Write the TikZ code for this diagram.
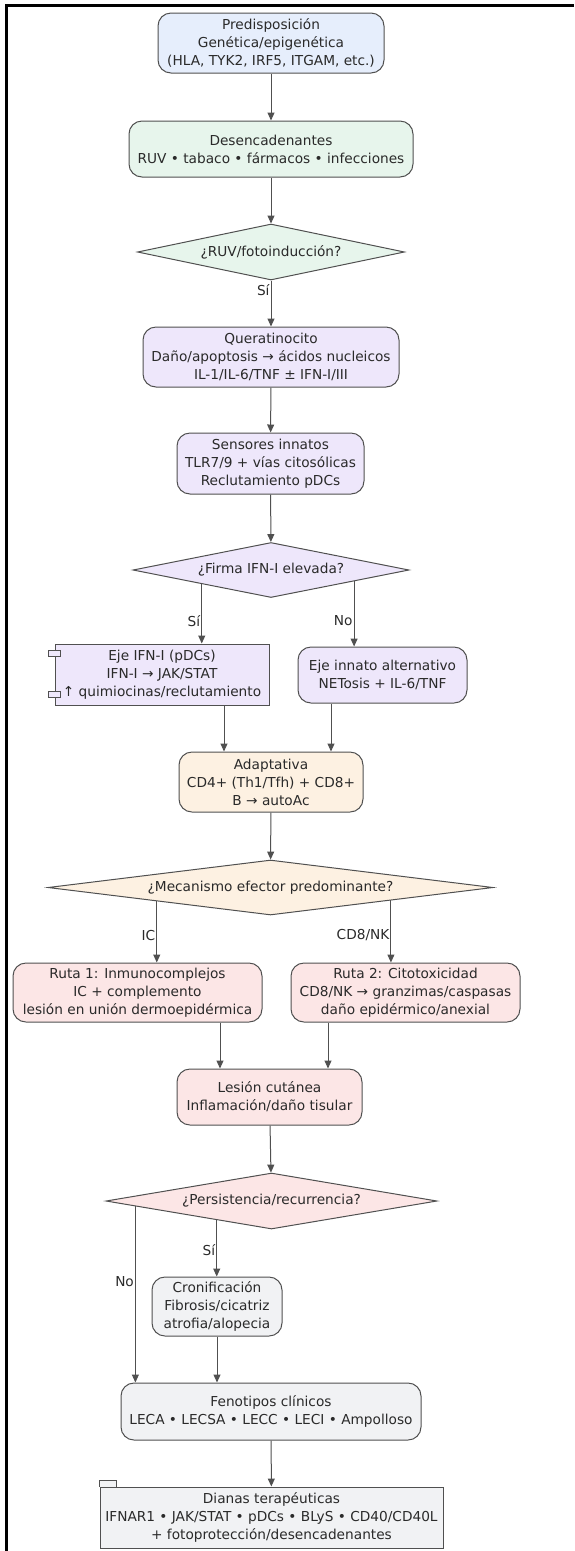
\documentclass[tikz,border=0pt]{standalone}
\usepackage{fontspec}
\setmainfont{DejaVu Sans}
\usetikzlibrary{shapes.geometric,arrows.meta,calc}

\definecolor{fillBlue}{HTML}{E6EEFC}
\definecolor{fillGreen}{HTML}{E7F5EC}
\definecolor{fillLav}{HTML}{EEE7FB}
\definecolor{fillPeach}{HTML}{FDF1E2}
\definecolor{fillPink}{HTML}{FCE6E6}
\definecolor{fillGrey}{HTML}{F1F2F4}
\definecolor{edgeGrey}{HTML}{505050}
\definecolor{textGrey}{HTML}{2A2A2A}

\newcommand\boxfont{\fontsize{13.7}{18}\selectfont}

\tikzset{
	box/.style={rectangle, rounded corners=13pt, draw=edgeGrey, line width=1pt,
		align=center, inner sep=0pt, text=textGrey, font=\boxfont},
	sqbox/.style={box, sharp corners},
	decision/.style={diamond, draw=edgeGrey, line width=1pt, inner sep=0pt,
		text=textGrey, font=\boxfont},
	arr/.style={draw=edgeGrey, line width=1pt, -{Triangle[length=8pt,width=7pt]}},
	lbl/.style={anchor=east, inner sep=1pt, text=textGrey, font=\boxfont}
}

\begin{document}
\begin{tikzpicture}[x=1pt,y=-1pt]
					%\draw[help lines] (0,0) grid (574,1551);
					\useasboundingbox (0,0) rectangle (574,1551);
					\draw[line width=3pt] (6,1551) -- (6,5.5) -- (574,5.5);
					
					\node[box, fill=fillBlue, minimum width=226pt, minimum height=60pt] (pred) at (271,43)
						{Predisposición\\Genética/epigenética\\(HLA, TYK2, IRF5, ITGAM, etc.)};
					\node[box, fill=fillGreen, minimum width=284pt, minimum height=56pt] (desenc) at (271,149)
						{Desencadenantes\\RUV • tabaco • fármacos • infecciones};
					\node[decision, fill=fillGreen, aspect=4.77, minimum width=267pt, minimum height=56pt] (ruv) at (271,252)
						{¿RUV/fotoinducción?};
					\node[box, fill=fillLav, minimum width=256pt, minimum height=60pt] (querat) at (271,357)
						{Queratinocito\\Daño/apoptosis → ácidos nucleicos\\IL-1/IL-6/TNF ± IFN-I/III};
					\node[box, fill=fillLav, minimum width=187pt, minimum height=61pt] (sensor) at (270.5,463.5)
						{Sensores innatos\\TLR7/9 + vías citosólicas\\Reclutamiento pDCs};
					\node[decision, fill=fillLav, aspect=5, minimum width=276pt, minimum height=55pt] (firma) at (271,570)
						{¿Firma IFN-I elevada?};
					\node[sqbox, fill=fillLav, minimum width=214pt, minimum height=61pt] (ejeIFN) at (162,674.5)
						{Eje IFN-I (pDCs)\\IFN-I → JAK/STAT\\↑ quimiocinas/reclutamiento};
					\node[box, fill=fillLav, minimum width=169pt, minimum height=56pt] (ejeAlt) at (382.5,675)
						{Eje innato alternativo\\NETosis + IL-6/TNF};
					\node[box, fill=fillPeach, minimum width=184pt, minimum height=60pt] (adapt) at (271,782)
						{Adaptativa\\CD4+ (Th1/Tfh) + CD8+\\B → autoAc};
					\node[decision, fill=fillPeach, aspect=8.1, minimum width=445pt, minimum height=55pt] (mecan) at (270.5,887.5)
						{¿Mecanismo efector predominante?};
					\node[box, fill=fillPink, minimum width=249pt, minimum height=59pt] (ruta1) at (137.5,992.5)
						{Ruta 1: Inmunocomplejos\\IC + complemento\\lesión en unión dermoepidérmica};
					\node[box, fill=fillPink, minimum width=229pt, minimum height=59pt] (ruta2) at (405.5,992.5)
						{Ruta 2: Citotoxicidad\\CD8/NK → granzimas/caspasas\\daño epidérmico/anexial};
					\node[box, fill=fillPink, minimum width=185pt, minimum height=56pt] (lesion) at (269.5,1097)
						{Lesión cutánea\\Inflamación/daño tisular};
					\node[decision, fill=fillPink, aspect=5.9, minimum width=331pt, minimum height=56pt] (persist) at (271.5,1201)
						{¿Persistencia/recurrencia?};
					\node[box, fill=fillGrey, minimum width=130pt, minimum height=59pt] (cronif) at (217,1306.5)
						{Cronificación\\Fibrosis/cicatriz\\atrofia/alopecia};
					\node[box, fill=fillGrey, minimum width=300pt, minimum height=57pt] (fenot) at (271,1411.5)
						{Fenotipos clínicos\\LECA • LECSA • LECC • LECI • Ampolloso};
					\node[sqbox, fill=fillGrey, minimum width=343pt, minimum height=61pt] (dianas) at (271.5,1517.5)
						{Dianas terapéuticas\\IFNAR1 • JAK/STAT • pDCs • BLyS • CD40/CD40L\\+ fotoprotección/desencadenantes};
					
					% component nubs and folder tab
					\draw[fill=fillLav, draw=edgeGrey, line width=1pt]
						([xshift=-6pt,yshift=-7pt]ejeIFN.north west) rectangle ++(12pt,-6pt)
						([xshift=-6pt,yshift=8pt]ejeIFN.south west) rectangle ++(12pt,6pt);
					\draw[fill=fillGrey, draw=edgeGrey, line width=1pt]
						(dianas.north west) -- ++(0pt,6pt) -- ++(17pt,0pt) -- ++(0pt,-6pt);
					
					\draw[arr] (pred) -- (desenc);
					\draw[arr] (desenc) -- (ruv);
					\draw[arr] (ruv) -- node[lbl,pos=.2]{Sí} (querat);
					\draw[arr] (querat) -- (sensor);
					\draw[arr] (sensor) -- (firma);
					\coordinate (fSi) at ($(firma.west)!.5!(firma.south)$);
					\coordinate (fNo) at ($(firma.south)!.6!(firma.east)$);
					\draw[arr] (fSi) -- node[lbl,pos=.63]{Sí} (fSi |- ejeIFN.north);
					\draw[arr] (fNo) -- node[lbl,pos=.61]{No} (fNo |- ejeAlt.north);
					\draw[arr] ([xshift=62pt]ejeIFN.south) -- ([xshift=62pt]ejeIFN.south |- adapt.north);
					\draw[arr] ([xshift=-51.5pt]ejeAlt.south) -- ([xshift=-51.5pt]ejeAlt.south |- adapt.north);
					\draw[arr] (adapt) -- (mecan);
					\coordinate (mIC) at ($(mecan.west)!.49!(mecan.south)$);
					\coordinate (mCD) at ($(mecan.south)!.54!(mecan.east)$);
					\draw[arr] (mIC) -- node[lbl,pos=.56]{IC} (mIC |- ruta1.north);
					\draw[arr] (mCD) -- node[lbl,pos=.56]{CD8/NK} (mCD |- ruta2.north);
					\draw[arr] ([xshift=82.5pt]ruta1.south) -- ([xshift=82.5pt]ruta1.south |- lesion.north);
					\draw[arr] ([xshift=-77.5pt]ruta2.south) -- ([xshift=-77.5pt]ruta2.south |- lesion.north);
					\draw[arr] (lesion) -- (persist);
					\coordinate (pNo) at ($(persist.west)!.18!(persist.south)$);
					\coordinate (pSi) at ($(persist.west)!.67!(persist.south)$);
					\draw[arr] (pSi) -- node[lbl,pos=.53]{Sí} (pSi |- cronif.north);
					\draw[arr] (pNo) -- node[lbl,pos=.43]{No} (pNo |- fenot.north);
					\draw[arr] (cronif.south) -- (cronif.south |- fenot.north);
					\draw[arr] (fenot) -- (dianas);
				\end{tikzpicture}
\end{document}
